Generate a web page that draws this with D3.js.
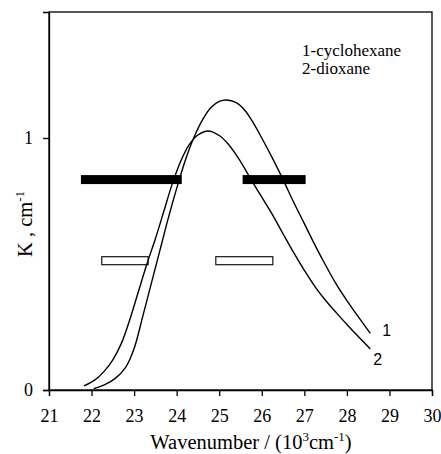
<!DOCTYPE html>
<html>
<head>
    <script src="https://d3js.org/d3.v7.min.js"></script>
</head>
<body style="margin:0">
    <script>
        // Curve 1 - cyclohexane (wavenumber in 10^3 cm-1, K in cm-1)
        const cyclohexaneX = [22.05, 22.3, 22.55, 22.8, 23.0, 23.2, 23.4, 23.6, 23.8, 24.0, 24.2, 24.4, 24.6, 24.8, 25.0, 25.17, 25.4, 25.6, 25.8, 26.0, 26.25, 26.5, 26.75, 27.0, 27.25, 27.5, 27.75, 28.0, 28.25, 28.55];
        const cyclohexaneK = [0.005, 0.02, 0.045, 0.09, 0.165, 0.29, 0.42, 0.55, 0.68, 0.80, 0.91, 1.0, 1.07, 1.12, 1.145, 1.151, 1.14, 1.11, 1.06, 1.0, 0.92, 0.835, 0.745, 0.66, 0.575, 0.495, 0.42, 0.355, 0.295, 0.225];

        // Curve 2 - dioxane
        const dioxaneX = [21.82, 22.08, 22.3, 22.5, 22.7, 22.9, 23.1, 23.3, 23.5, 23.7, 23.9, 24.1, 24.3, 24.5, 24.74, 25.0, 25.2, 25.45, 25.75, 26.0, 26.27, 26.5, 26.75, 27.0, 27.25, 27.5, 27.76, 28.0, 28.25, 28.55];
        const dioxaneK = [0.016, 0.04, 0.075, 0.12, 0.185, 0.28, 0.39, 0.5, 0.6, 0.71, 0.82, 0.91, 0.975, 1.012, 1.028, 1.01, 0.978, 0.92, 0.835, 0.765, 0.69, 0.62, 0.545, 0.475, 0.41, 0.355, 0.305, 0.26, 0.215, 0.163];

        // horizontal bars: [start, end] wavenumber and level
        const filledBars = [[21.75, 24.12], [25.55, 27.03]];
        const filledLevel = 0.835;
        const openBars = [[22.24, 23.33], [24.92, 26.26]];
        const openLevel = 0.513;

        const xTicks = [21, 22, 23, 24, 25, 26, 27, 28, 29, 30];
        const yTicks = [0, 1];
        const legendLines = ["1-cyclohexane", "2-dioxane"];

        const SERIF = '"Liberation Serif"';
        const SANS = '"Liberation Sans"';

        const width = 441;
        const height = 454;
        const margin = { top: 12, right: 9, bottom: 64, left: 49 };

        const svg = d3.select('body').append('svg')
            .attr('width', width)
            .attr('height', height);

        const x = d3.scaleLinear().domain([21, 30]).range([margin.left, width - margin.right]);
        const y = d3.scaleLinear().domain([0, 1.5]).range([height - margin.bottom, margin.top]);

        // frame
        svg.append('rect')
            .attr('x', x(21))
            .attr('y', y(1.5))
            .attr('width', x(30) - x(21))
            .attr('height', y(0) - y(1.5))
            .attr('fill', 'none')
            .attr('stroke', '#000')
            .attr('stroke-width', 1.3);

        // x axis
        const xAxis = svg.append('g')
            .attr('transform', `translate(0,${y(0)})`)
            .call(d3.axisBottom(x).tickValues(xTicks).tickSize(6).tickPadding(13));
        xAxis.select('.domain').attr('stroke-width', 1.3);
        xAxis.selectAll('.tick line').attr('stroke-width', 1.3);
        xAxis.selectAll('.tick text')
            .style('font-family', SERIF)
            .style('font-size', '18px');

        // y axis
        const yAxis = svg.append('g')
            .attr('transform', `translate(${x(21)},0)`)
            .call(d3.axisLeft(y).tickValues(yTicks).tickFormat(d3.format('d')).tickSize(6).tickPadding(10));
        yAxis.select('.domain').attr('stroke-width', 1.3);
        yAxis.selectAll('.tick line').attr('stroke-width', 1.3);
        yAxis.selectAll('.tick text')
            .style('font-family', SERIF)
            .style('font-size', '18px');

        // bars
        svg.append('g')
            .selectAll('rect')
            .data(filledBars)
            .enter().append('rect')
            .attr('x', d => x(d[0]))
            .attr('y', y(filledLevel) - 4.5)
            .attr('width', d => x(d[1]) - x(d[0]))
            .attr('height', 9)
            .attr('fill', '#000');

        svg.append('g')
            .selectAll('rect')
            .data(openBars)
            .enter().append('rect')
            .attr('x', d => x(d[0]))
            .attr('y', y(openLevel) - 4)
            .attr('width', d => x(d[1]) - x(d[0]))
            .attr('height', 8)
            .attr('fill', '#fff')
            .attr('stroke', '#000')
            .attr('stroke-width', 1.1);

        // curves
        const line = d3.line()
            .x(d => x(d[0]))
            .y(d => y(d[1]))
            .curve(d3.curveCatmullRom.alpha(0.5));

        const curves = [
            d3.zip(cyclohexaneX, cyclohexaneK),
            d3.zip(dioxaneX, dioxaneK)
        ];

        svg.append('g')
            .selectAll('path')
            .data(curves)
            .enter().append('path')
            .attr('d', line)
            .attr('fill', 'none')
            .attr('stroke', '#000')
            .attr('stroke-width', 1.4);

        // curve numbers
        svg.append('text')
            .attr('x', x(28.55) + 12)
            .attr('y', y(0.225) + 3)
            .style('font-family', SANS)
            .style('font-size', '16px')
            .text('1');
        svg.append('text')
            .attr('x', x(28.55) + 3)
            .attr('y', y(0.163) + 16)
            .style('font-family', SANS)
            .style('font-size', '16px')
            .text('2');

        // legend
        svg.append('g')
            .selectAll('text')
            .data(legendLines)
            .enter().append('text')
            .attr('x', 302)
            .attr('y', (d, i) => 56 + i * 18)
            .style('font-family', SERIF)
            .style('font-size', '17px')
            .text(d => d);

        // x title
        const xTitle = svg.append('text')
            .attr('x', 251)
            .attr('y', 449)
            .attr('text-anchor', 'middle')
            .style('font-family', SERIF)
            .style('font-size', '20.5px');
        xTitle.append('tspan').text('Wavenumber / (10');
        xTitle.append('tspan').attr('dy', -8).style('font-size', '13px').text('3');
        xTitle.append('tspan').attr('dy', 8).text('cm');
        xTitle.append('tspan').attr('dy', -8).style('font-size', '13px').text('-1');
        xTitle.append('tspan').attr('dy', 8).text(')');

        // y title
        const yTitle = svg.append('text')
            .attr('transform', 'translate(32,224) rotate(-90)')
            .attr('text-anchor', 'middle')
            .style('font-family', SERIF)
            .style('font-size', '20.5px');
        yTitle.append('tspan').text('K , cm');
        yTitle.append('tspan').attr('dy', -8).style('font-size', '13px').text('-1');
    </script>
</body>
</html>
